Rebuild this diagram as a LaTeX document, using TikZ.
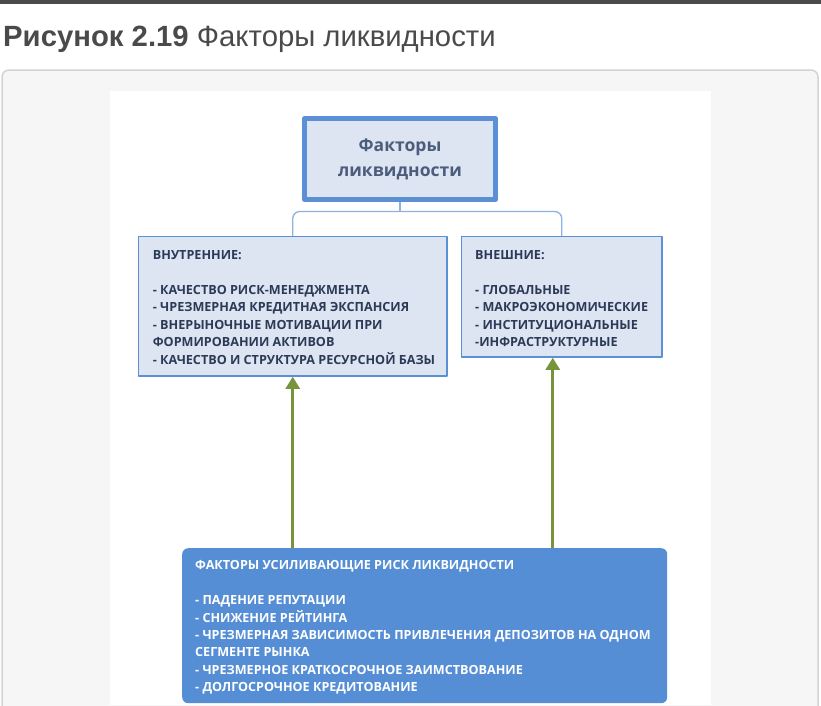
\documentclass[tikz,border=0pt]{standalone}
\usepackage{fontspec}
\setmainfont{Open Sans}
\newfontfamily\titlefont{Liberation Sans}
\usetikzlibrary{arrows.meta}
\definecolor{barGray}{HTML}{4A4A4A}
\definecolor{panelFill}{HTML}{F6F6F6}
\definecolor{panelLine}{HTML}{D3D3D3}
\definecolor{boxFill}{HTML}{DCE5F1}
\definecolor{boxLine}{HTML}{5B8FD6}
\definecolor{linkBlue}{HTML}{8DB3E2}
\definecolor{textNavy}{HTML}{2C3A57}
\definecolor{headNavy}{HTML}{4C5C7C}
\definecolor{riskBlue}{HTML}{558ED5}
\definecolor{feedGreen}{HTML}{77933C}
\begin{document}
\begin{tikzpicture}[x=1pt, y=-1pt, line join=round, >={Triangle[width=14pt,length=12pt]},
  headbox/.style={draw=boxLine, line width=5pt, fill=boxFill, minimum width=191pt, minimum height=81pt,
    align=center, text=headNavy, font={\bfseries\fontsize{17.5}{25}\selectfont}},
  sidebox/.style={draw=boxLine, line width=1.5pt, fill=boxFill, anchor=north west},
  listtext/.style={anchor=north west, inner sep=0pt, align=left, font={\bfseries\fontsize{12.6}{17.4}\selectfont}},
  link/.style={draw=linkBlue, line width=1.3pt},
  feed/.style={->, draw=feedGreen, fill=feedGreen, line width=2.6pt}]
\useasboundingbox (0,0) rectangle (821,705);
% page frame
\fill[barGray] (0,0) rectangle (821,4);
\node[anchor=base west, inner sep=0pt, text=barGray, font={\titlefont\fontsize{29.3}{33}\selectfont}] (caption) at (3,46)
  {\textbf{Рисунок 2.19} Факторы ликвидности};
\draw[panelLine, fill=panelFill, line width=1.5pt, rounded corners=7pt] (2,720) |- (818,70) -- (818,720);
\fill[white] (110,91) rectangle (711,705);
% boxes
\node[headbox] (top) at (400,159) {Факторы\\ликвидности};
\node[sidebox, minimum width=308.5pt, minimum height=139.5pt] (inner) at (137.75,235.75) {};
\node[sidebox, minimum width=200.5pt, minimum height=120.5pt] (outer) at (460.75,235.75) {};
\node[listtext, text=textNavy] (innertext) at (152.7,250.5)
  {ВНУТРЕННИЕ:\\ \\
   - КАЧЕСТВО РИСК-МЕНЕДЖМЕНТА\\
   - ЧРЕЗМЕРНАЯ КРЕДИТНАЯ ЭКСПАНСИЯ\\
   - ВНЕРЫНОЧНЫЕ МОТИВАЦИИ ПРИ\\
   ФОРМИРОВАНИИ АКТИВОВ\\
   - КАЧЕСТВО И СТРУКТУРА РЕСУРСНОЙ БАЗЫ};
\node[listtext, text=textNavy] (outertext) at (475,250.5)
  {ВНЕШНИЕ:\\ \\
   - ГЛОБАЛЬНЫЕ\\
   - МАКРОЭКОНОМИЧЕСКИЕ\\
   - ИНСТИТУЦИОНАЛЬНЫЕ\\
   -ИНФРАСТРУКТУРНЫЕ};
\node[fill=riskBlue, rounded corners=6pt, anchor=north west, minimum width=485pt, minimum height=155pt] (risk) at (182,548) {};
\node[listtext, text=white] (risktext) at (195,560.5)
  {ФАКТОРЫ УСИЛИВАЮЩИЕ РИСК ЛИКВИДНОСТИ\\ \\
   - ПАДЕНИЕ РЕПУТАЦИИ\\
   - СНИЖЕНИЕ РЕЙТИНГА\\
   - ЧРЕЗМЕРНАЯ ЗАВИСИМОСТЬ ПРИВЛЕЧЕНИЯ ДЕПОЗИТОВ НА ОДНОМ\\
   СЕГМЕНТЕ РЫНКА\\
   - ЧРЕЗМЕРНОЕ КРАТКОСРОЧНОЕ ЗАИМСТВОВАНИЕ\\
   - ДОЛГОСРОЧНОЕ КРЕДИТОВАНИЕ};
% connectors
\coordinate (fork) at (400,211.5);
\draw[link] (top.south) -- (fork);
\draw[link, rounded corners=7pt] (inner.north) |- (fork) -| (outer.north);
\coordinate (outin) at ([xshift=-9pt]outer.south);
\draw[feed] (risk.north -| inner.south) -- (inner.south);
\draw[feed] (risk.north -| outin) -- (outin);
\end{tikzpicture}
\end{document}
